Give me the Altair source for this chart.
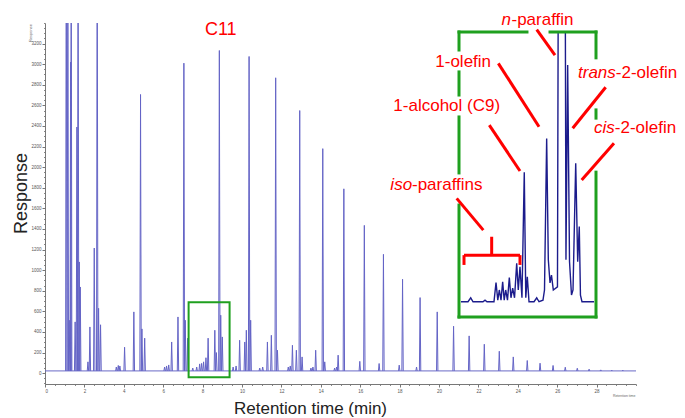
import altair as alt
import pandas as pd

# ---------------- data ----------------
# main chromatogram: retention time (min) and apex response of each peak
peak_time = [1.08, 1.16, 1.26, 1.30, 1.33, 1.53, 1.62, 1.68, 1.74, 1.79,
             2.18, 2.28, 2.50, 2.65, 2.72, 2.82, 3.62, 3.72, 3.80, 4.04,
             4.51, 4.85, 4.92, 5.06, 6.07, 6.17, 6.28, 6.43, 6.75, 7.05,
             7.12, 7.24, 7.50, 7.70, 7.85, 7.95, 8.05, 8.17, 8.28, 8.62,
             8.70, 8.85, 8.92, 9.00, 9.55, 9.70, 9.88, 10.14, 10.22, 10.36,
             10.44, 10.90, 11.05, 11.29, 11.49, 11.71, 11.80, 12.35, 12.45, 12.56,
             12.76, 12.93, 13.05, 13.50, 13.60, 13.74, 14.10, 14.20, 14.70, 14.80,
             14.88, 15.17, 15.98, 16.21, 16.96, 17.18, 17.98, 18.15, 18.86, 19.04,
             19.91, 20.74, 21.53, 22.30, 23.06, 23.77, 24.48, 25.13, 25.79, 26.41,
             27.02, 27.62, 28.21, 28.77, 29.33]
peak_height = [4500, 4500, 514, 3020, 4500, 498, 2390, 4500, 1080, 837,
               110, 449, 1215, 4500, 630, 470, 60, 75, 70, 252,
               595, 2706, 430, 340, 60, 70, 80, 303, 546, 3010,
               514, 340, 50, 60, 90, 95, 110, 150, 340, 417,
               200, 3133, 563, 352, 60, 70, 320, 303, 417, 3075,
               514, 50, 60, 303, 368, 2868, 223, 60, 70, 271,
               223, 2550, 158, 50, 60, 223, 2180, 110, 50, 60,
               175, 1790, 115, 1435, 94, 1154, 78, 912, 60, 734,
               595, 456, 362, 281, 213, 158, 123, 97, 75, 58,
               48, 39, 32, 29, 29]
baseline_level = 22
run_time = [0, 30]

# zoomed window around C11 (inset)
zoom_time = [7.29, 9.37]
zoom_resp = [-39, 689]
inset_time = [7.320, 7.427, 7.468, 7.503, 7.654, 7.685, 7.715, 7.821, 7.852, 7.879,
              7.902, 7.928, 7.953, 7.976, 7.999, 8.026, 8.054, 8.079, 8.105, 8.133,
              8.166, 8.190, 8.216, 8.246, 8.281, 8.304, 8.327, 8.353, 8.429, 8.470,
              8.505, 8.565, 8.588, 8.621, 8.646, 8.672, 8.694, 8.722, 8.785, 8.795,
              8.905, 8.914, 8.940, 8.968, 8.998, 9.021, 9.062, 9.092, 9.116, 9.134,
              9.157, 9.340]
inset_resp = [0, 0, 10, 0, 0, 4, 0, 0, 49, 4,
              30, 4, 51, 4, 30, 4, 62, 10, 35, 10,
              98, 30, 89, 10, 331, 10, 64, 0, 0, 10,
              0, 4, 30, 417, 107, 48, 68, 30, 38, 689,
              689, 107, 605, 102, 17, 30, 354, 102, 192, 17,
              0, 0]

# annotation texts (inset units)
italic_text = ["n", "iso", "trans", "cis"]
italic_t = [7.935, 6.248, 9.097, 9.340]
italic_r = [707, 285, 571, 431]
plain_text = ["-paraffin", "1-olefin", "1-alcohol (C9)", "-paraffins", "-2-olefin", "-2-olefin"]
plain_t = [8.087, 6.930, 6.293, 6.576, 9.671, 9.655]
plain_r = [707, 600, 487, 285, 571, 431]

# pointer lines (inset units): t1, r1, t2, r2
pointer_t1 = [8.470, 7.887, 7.750, 7.255, 9.517, 9.643, 7.366, 7.366, 8.216, 7.786]
pointer_r1 = [695, 609, 451, 264, 548, 405, 119, 119, 119, 119]
pointer_t2 = [8.747, 8.505, 8.216, 7.659, 9.016, 9.153, 8.216, 7.366, 8.216, 7.786]
pointer_r2 = [630, 447, 334, 183, 443, 311, 119, 94, 94, 166]

# green frame pieces (inset units), with the gaps left around the labels
frame_t1 = [7.29, 8.672, 7.29, 7.29, 7.29, 7.29, 7.29, 9.37, 9.37, 9.37]
frame_t2 = [8.322, 9.37, 9.37, 7.29, 7.29, 7.29, 7.29, 9.37, 9.37, 9.37]
frame_r1 = [689, 689, -39, 689, 587, 472, 247, 689, 490, 331]
frame_r2 = [689, 689, -39, 643, 528, 329, -39, 623, 469, -39]

# ---------------- tables ----------------
half = 0.035
rows = []
for i, (t, h) in enumerate(zip(peak_time, peak_height)):
    rows.append(dict(pk=i, t=t - half, r=baseline_level))
    rows.append(dict(pk=i, t=t, r=h))
    rows.append(dict(pk=i, t=t + half, r=baseline_level))
peaks_df = pd.DataFrame(rows)
base_df = pd.DataFrame({"t": run_time, "r": [baseline_level, baseline_level]})
inset_df = pd.DataFrame({"t": inset_time, "r": inset_resp, "o": list(range(len(inset_time)))})
italic_df = pd.DataFrame({"t": italic_t, "r": italic_r, "txt": italic_text})
plain_df = pd.DataFrame({"t": plain_t, "r": plain_r, "txt": plain_text})
pointer_df = pd.DataFrame({"t": pointer_t1, "r": pointer_r1, "t2": pointer_t2, "r2": pointer_r2})
frame_df = pd.DataFrame({"t": frame_t1, "t2": frame_t2, "r": frame_r1, "r2": frame_r2})
zoom_df = pd.DataFrame({"t": [zoom_time[0]], "t2": [zoom_time[1]], "r": [zoom_resp[0]], "r2": [zoom_resp[1]]})
c11_df = pd.DataFrame({"t": [8.92], "r": [3283], "txt": ["C11"]})
small_y_df = pd.DataFrame({"t": [-0.72], "r": [3303], "txt": ["Response"]})
small_x_df = pd.DataFrame({"t": [29.4], "r": [-222], "txt": ["Retention time"]})

FONT = "Liberation Sans"
RED = "#ff0000"
GREEN = "#1fa01f"


def xs():
    return alt.Scale(domain=run_time, nice=False, zero=False)


def ys():
    return alt.Scale(domain=[-105, 3400], nice=False, zero=False)


def ixs():
    return alt.Scale(domain=zoom_time, range=[414, 551], nice=False, zero=False)


def iys(clamp=False):
    return alt.Scale(domain=zoom_resp, range=[294, 9], nice=False, zero=False, clamp=clamp)


axis_common = dict(grid=False, labelFont=FONT, labelFontSize=4.5, labelColor="#555",
                   tickColor="#777", domainColor="#777", labelPadding=1, format="d")

# minor ticks (on baseline layer)
base = alt.Chart(base_df).mark_line(color="#6a6ac6", strokeWidth=1).encode(
    x=alt.X("t:Q", scale=xs(), axis=alt.Axis(orient="bottom", values=[i * 0.5 for i in range(61)],
                                               labels=False, tickSize=1.5, domain=False, title=None,
                                               grid=False, tickColor="#888")),
    y=alt.Y("r:Q", scale=ys(), axis=alt.Axis(orient="left", values=[-100 + 50 * i for i in range(71)],
                                               labels=False, tickSize=1.5, domain=False, title=None,
                                               grid=False, tickColor="#888")),
)

peaks = alt.Chart(peaks_df).mark_line(color="#6464c6", strokeWidth=1, clip=True).encode(
    x=alt.X("t:Q", scale=xs(), axis=alt.Axis(orient="bottom", values=list(range(0, 30, 2)),
                                               tickSize=3, title="Retention time (min)",
                                               titleFont=FONT, titleFontSize=17, titleFontWeight="normal",
                                               titleColor="#222", titleX=265, titleY=29,
                                               titleAlign="center", titleBaseline="alphabetic",
                                               **axis_common)),
    y=alt.Y("r:Q", scale=ys(), axis=alt.Axis(orient="left", values=list(range(0, 3400, 200)),
                                               tickSize=3, title="Response",
                                               titleFont=FONT, titleFontSize=18, titleFontWeight="normal",
                                               titleColor="#222", titleAngle=270, titleX=-19, titleY=170,
                                               titleAlign="center", titleBaseline="alphabetic",
                                               **axis_common)),
    detail="pk:N",
)

zoom_box = alt.Chart(zoom_df).mark_rect(filled=False, stroke=GREEN, strokeWidth=2).encode(
    x=alt.X("t:Q", scale=xs(), axis=None), x2="t2",
    y=alt.Y("r:Q", scale=ys(), axis=None), y2="r2",
)

c11 = alt.Chart(c11_df).mark_text(color=RED, font=FONT, fontSize=18, align="center",
                                  baseline="alphabetic").encode(
    x=alt.X("t:Q", scale=xs(), axis=None), y=alt.Y("r:Q", scale=ys(), axis=None), text="txt:N")

small_y = alt.Chart(small_y_df).mark_text(color="#666", font=FONT, fontSize=4, angle=270,
                                          align="center", baseline="middle").encode(
    x=alt.X("t:Q", scale=xs(), axis=None), y=alt.Y("r:Q", scale=ys(), axis=None), text="txt:N")

small_x = alt.Chart(small_x_df).mark_text(color="#666", font=FONT, fontSize=3.5, align="center",
                                          baseline="middle").encode(
    x=alt.X("t:Q", scale=xs(), axis=None), y=alt.Y("r:Q", scale=ys(), axis=None), text="txt:N")

inset_bg = alt.Chart(zoom_df).mark_rect(color="white").encode(
    x=alt.X("t:Q", scale=ixs(), axis=None), x2="t2",
    y=alt.Y("r:Q", scale=iys(), axis=None), y2="r2",
)

inset_line = alt.Chart(inset_df).mark_line(color="#1c1c8c", strokeWidth=1.4).encode(
    x=alt.X("t:Q", scale=ixs(), axis=None),
    y=alt.Y("r:Q", scale=iys(True), axis=None),
    order="o:Q",
)

frame = alt.Chart(frame_df).mark_rule(color=GREEN, strokeWidth=3, strokeCap="square").encode(
    x=alt.X("t:Q", scale=ixs(), axis=None), x2="t2",
    y=alt.Y("r:Q", scale=iys(), axis=None), y2="r2",
)

pointers = alt.Chart(pointer_df).mark_rule(color=RED, strokeWidth=3).encode(
    x=alt.X("t:Q", scale=ixs(), axis=None), x2="t2",
    y=alt.Y("r:Q", scale=iys(), axis=None), y2="r2",
)

italic = alt.Chart(italic_df).mark_text(color=RED, font=FONT, fontSize=17, fontStyle="italic",
                                        align="left", baseline="alphabetic").encode(
    x=alt.X("t:Q", scale=ixs(), axis=None), y=alt.Y("r:Q", scale=iys(), axis=None), text="txt:N")

plain = alt.Chart(plain_df).mark_text(color=RED, font=FONT, fontSize=17,
                                      align="left", baseline="alphabetic").encode(
    x=alt.X("t:Q", scale=ixs(), axis=None), y=alt.Y("r:Q", scale=iys(), axis=None), text="txt:N")

chart = alt.layer(
    base, peaks, zoom_box, c11, small_y, small_x,
    inset_bg, inset_line, frame, pointers, italic, plain
).resolve_scale(x="independent", y="independent").resolve_axis(
    x="independent", y="independent"
).properties(
    width=591, height=361,
    autosize=alt.AutoSizeParams(type="none"),
    padding={"left": 37, "top": 15, "right": 41, "bottom": 40},
    background="white",
).configure_view(stroke=None)

chart.save("out.html", embed_options={"renderer": "svg", "actions": False})
